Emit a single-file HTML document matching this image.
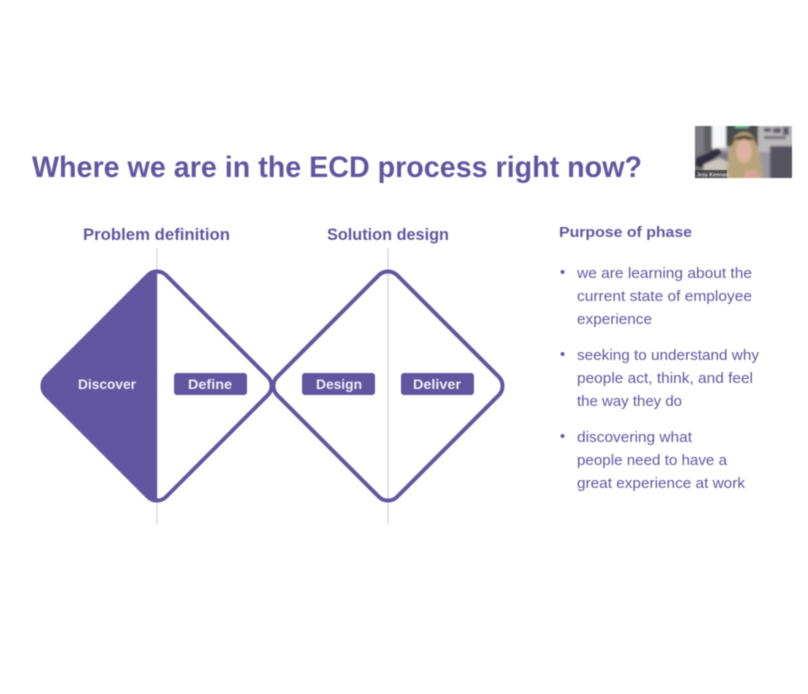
<!DOCTYPE html>
<html><head><meta charset="utf-8"><style>
html,body{margin:0;padding:0;background:#fff}
body{width:808px;height:694px;overflow:hidden;position:relative}
svg{position:absolute;left:0;top:0;filter:blur(.45px)}
text{font-family:"Liberation Sans",sans-serif;fill:#6356a0}
</style></head><body>
<svg width="808" height="694" viewBox="0 0 808 694">
<defs>
<clipPath id="cam"><rect x="695" y="126" width="97" height="52"/></clipPath>
<clipPath id="lh"><rect x="30" y="260" width="127" height="250"/></clipPath>
<filter id="b" x="-10%" y="-10%" width="120%" height="120%"><feGaussianBlur stdDeviation="1.1"/></filter>
</defs>
<rect width="808" height="694" fill="#fff"/>
<text x="32" y="177" font-size="29.5" font-weight="700" textLength="610" lengthAdjust="spacingAndGlyphs">Where we are in the ECD process right now?</text>
<text x="83" y="240" font-size="16.5" font-weight="700" textLength="147" lengthAdjust="spacingAndGlyphs">Problem definition</text>
<text x="327" y="240" font-size="16.5" font-weight="700" textLength="122" lengthAdjust="spacingAndGlyphs">Solution design</text>
<line x1="157" y1="248" x2="157" y2="524" stroke="#d2cfe2" stroke-width="1.2"/>
<line x1="388" y1="248" x2="388" y2="524" stroke="#d2cfe2" stroke-width="1.2"/>
<g clip-path="url(#lh)"><rect x="72.2" y="301.2" width="169.6" height="169.6" rx="13" transform="rotate(45 157 386)" fill="#6356a0" stroke="#6356a0" stroke-width="4"/></g>
<rect x="72.2" y="301.2" width="169.6" height="169.6" rx="13" transform="rotate(45 157 386)" fill="none" stroke="#6356a0" stroke-width="4"/>
<rect x="303.2" y="301.2" width="169.6" height="169.6" rx="13" transform="rotate(45 388 386)" fill="none" stroke="#6356a0" stroke-width="4"/>
<text x="107" y="389" font-size="14" font-weight="700" style="fill:#f1eff7" text-anchor="middle" textLength="58" lengthAdjust="spacingAndGlyphs">Discover</text>
<rect x="174" y="373" width="73" height="22" rx="3" fill="#6356a0"/>
<text x="210" y="389" font-size="14" font-weight="700" style="fill:#f1eff7" text-anchor="middle" textLength="44" lengthAdjust="spacingAndGlyphs">Define</text>
<rect x="302" y="373" width="73" height="22" rx="3" fill="#6356a0"/>
<text x="339" y="389" font-size="14" font-weight="700" style="fill:#f1eff7" text-anchor="middle" textLength="46" lengthAdjust="spacingAndGlyphs">Design</text>
<rect x="401" y="373" width="73" height="22" rx="3" fill="#6356a0"/>
<text x="437" y="389" font-size="14" font-weight="700" style="fill:#f1eff7" text-anchor="middle" textLength="48" lengthAdjust="spacingAndGlyphs">Deliver</text>
<text x="559" y="237" font-size="15" font-weight="700" textLength="133" lengthAdjust="spacingAndGlyphs">Purpose of phase</text>
<g font-size="14.5">
<text x="560" y="277">•</text>
<text x="577" y="278" textLength="175" lengthAdjust="spacingAndGlyphs">we are learning about the</text>
<text x="577" y="301" textLength="175" lengthAdjust="spacingAndGlyphs">current state of employee</text>
<text x="577" y="324" textLength="75" lengthAdjust="spacingAndGlyphs">experience</text>
<text x="560" y="359">•</text>
<text x="577" y="360" textLength="182" lengthAdjust="spacingAndGlyphs">seeking to understand why</text>
<text x="577" y="383" textLength="176" lengthAdjust="spacingAndGlyphs">people act, think, and feel</text>
<text x="577" y="406" textLength="105" lengthAdjust="spacingAndGlyphs">the way they do</text>
<text x="560" y="441">•</text>
<text x="577" y="442" textLength="115" lengthAdjust="spacingAndGlyphs">discovering what</text>
<text x="577" y="465" textLength="150" lengthAdjust="spacingAndGlyphs">people need to have a</text>
<text x="577" y="488" textLength="168" lengthAdjust="spacingAndGlyphs">great experience at work</text>
</g>
<g clip-path="url(#cam)">
<rect x="695" y="126" width="97" height="52" fill="#a9a6ab"/>
<g filter="url(#b)">
<rect x="690" y="122" width="22" height="60" fill="#7d7b82"/>
<rect x="704" y="122" width="8" height="30" fill="#5f5e64"/>
<rect x="712" y="122" width="14" height="26" fill="#f6f7f8"/>
<rect x="726" y="122" width="32" height="24" fill="#484b50"/>
<rect x="735" y="123" width="14" height="5" fill="#6cc08f"/>
<rect x="758" y="122" width="38" height="30" fill="#bcb9bc"/>
<rect x="764" y="128" width="7" height="4" fill="#5c5a68"/>
<rect x="773" y="128" width="8" height="5" fill="#5c5a68"/>
<rect x="783" y="127" width="6" height="8" fill="#5c5a68"/>
<rect x="764" y="136" width="22" height="3" fill="#6e6c78"/>
<rect x="770" y="146" width="26" height="36" fill="#56545f"/>
<rect x="758" y="152" width="12" height="30" fill="#9b98a0"/>
<rect x="690" y="152" width="38" height="30" fill="#7c7980"/>
<path d="M695 165 L696 158 L718 148 L722 153 L700 168 Z" fill="#2f2d3d"/>
<path d="M702 178 L704 164 L720 158 L728 162 L728 182 Z" fill="#c9c4bc"/>
<path d="M727 182 C727 155 729 133 744 132 C759 133 760 155 764 182 Z" fill="#b8a47c"/>
<path d="M730 148 C730 131 758 131 758 148 L754 140 L735 140 Z" fill="#5a4a3c"/>
<ellipse cx="744" cy="151" rx="7.5" ry="12" fill="#dcb3a0"/>
<path d="M743 182 L745 171 L755 169 L763 182 Z" fill="#d0a694"/>
</g>
<rect x="695" y="170" width="32" height="8" fill="#3c3a40" opacity=".85"/>
<text x="696.5" y="176.5" font-size="5.5" style="fill:#fff">Jess Keenan</text>
</g>
</svg>
</body></html>
